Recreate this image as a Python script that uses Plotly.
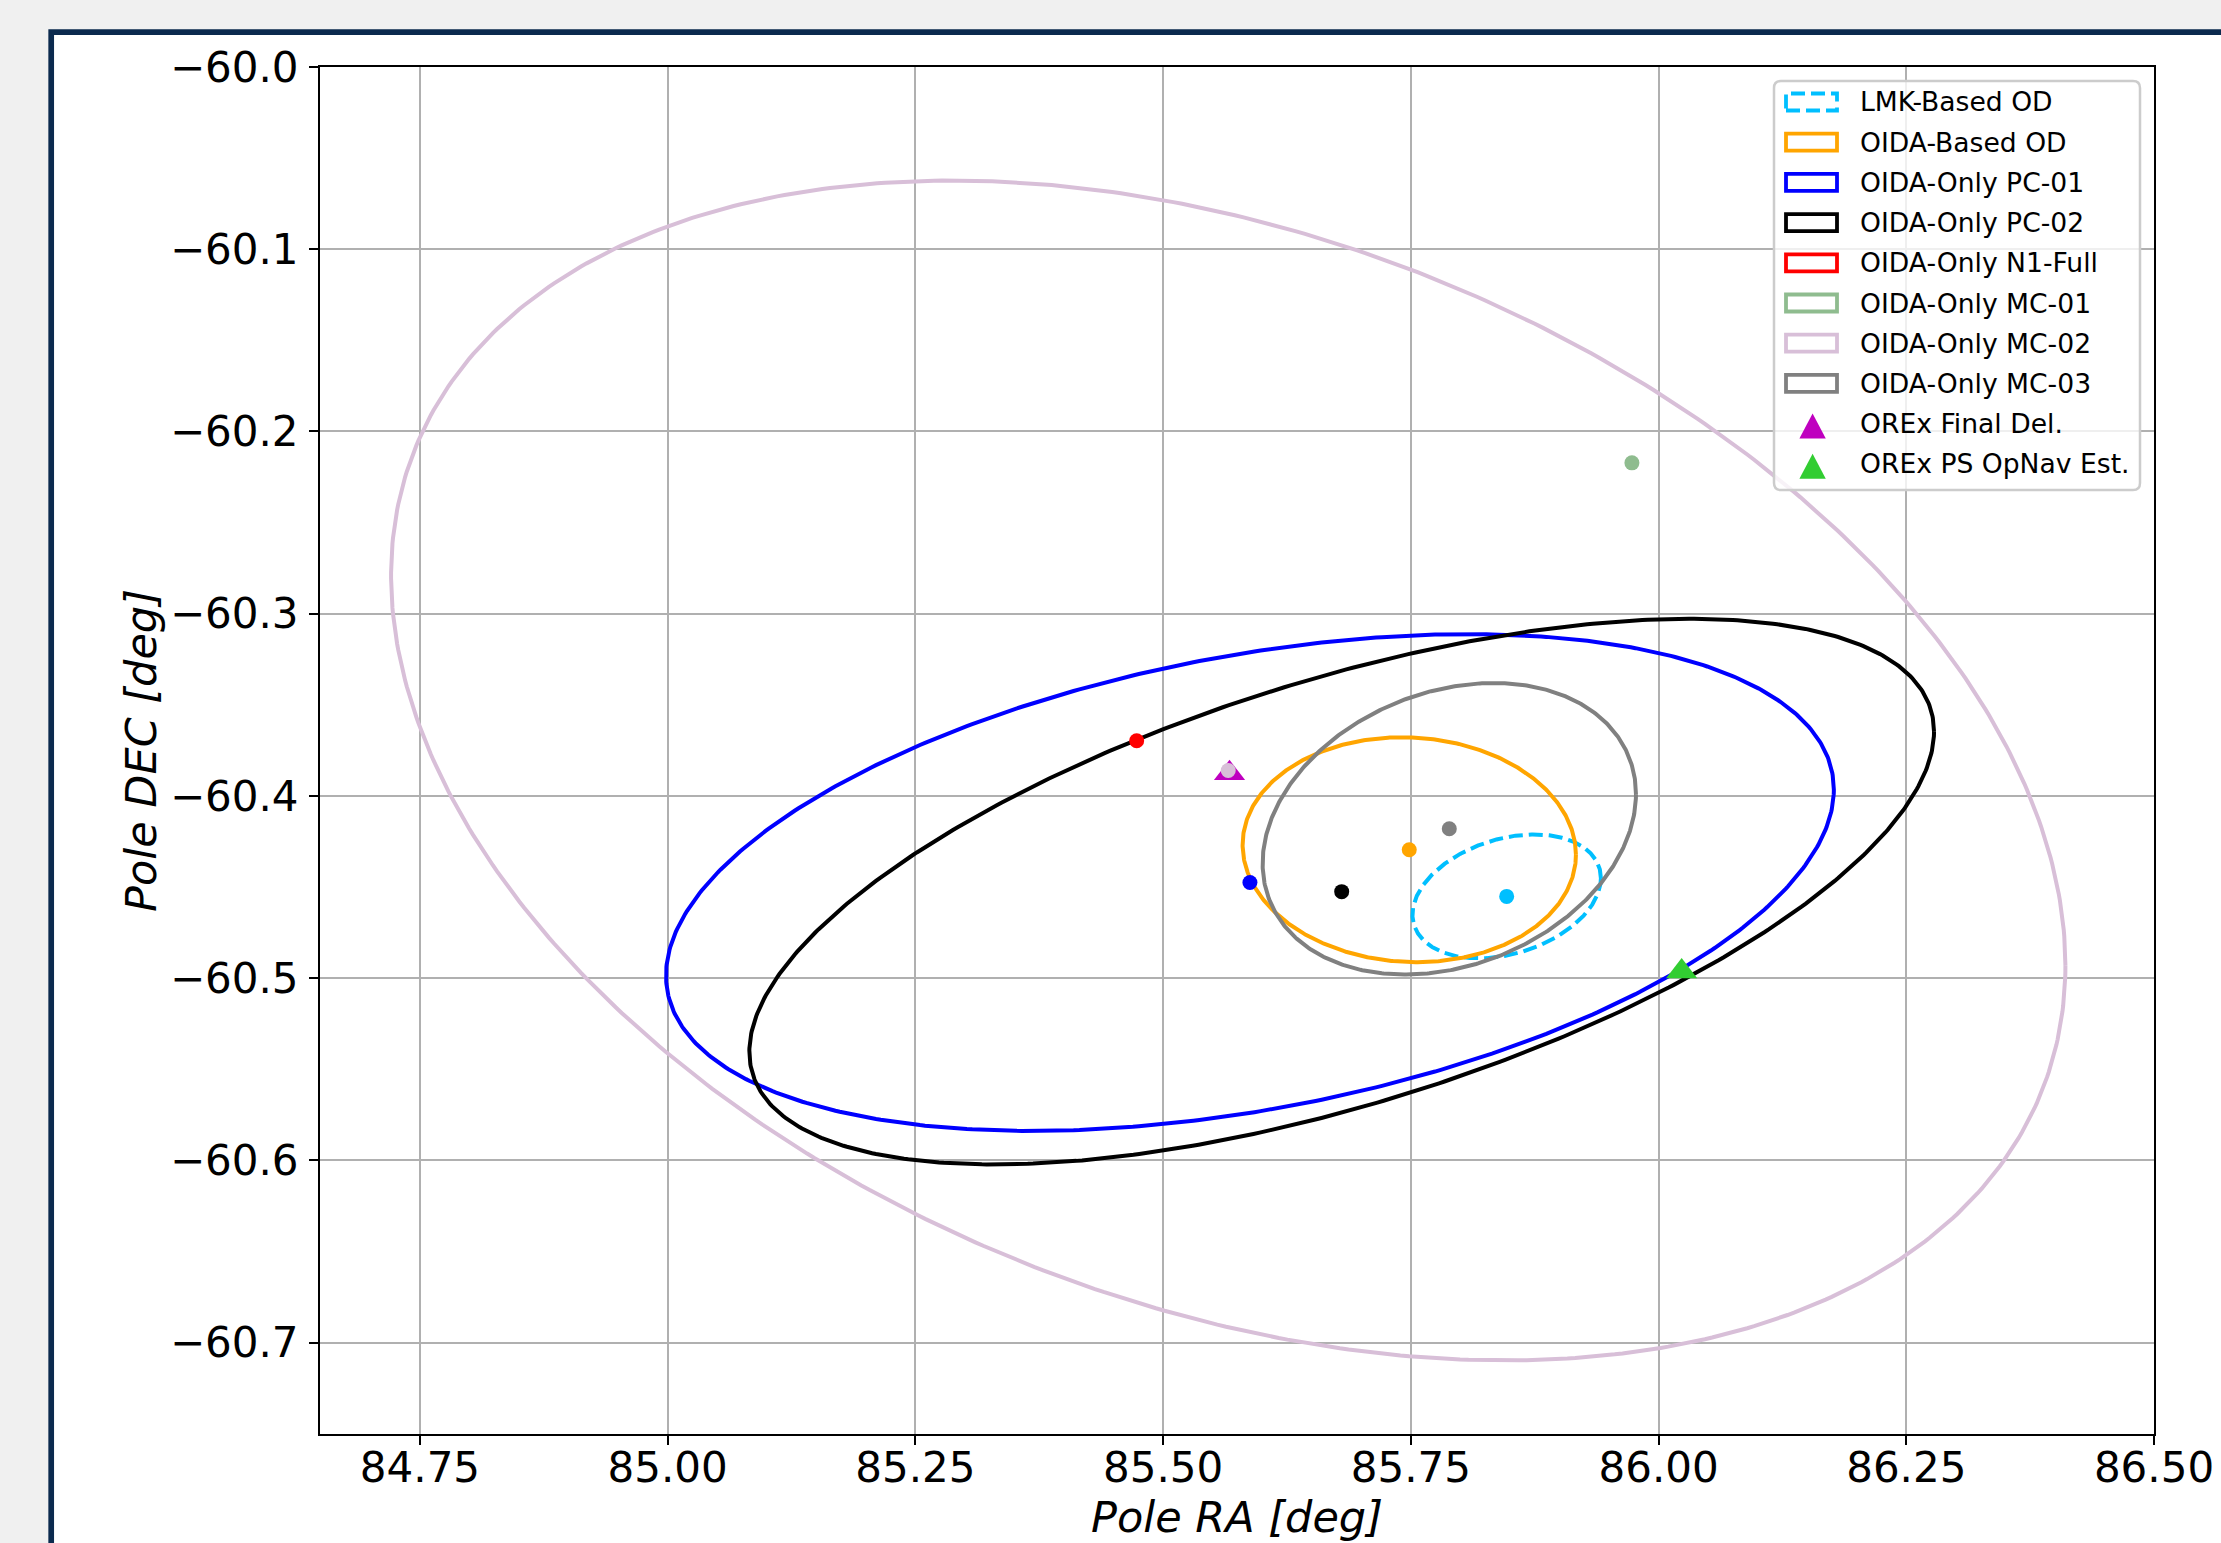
import numpy as np
import plotly.graph_objects as go

# ---------------- data ----------------
ellipse_names = ["LMK-Based OD", "OIDA-Based OD", "OIDA-Only PC-01", "OIDA-Only PC-02",
                 "OIDA-Only N1-Full", "OIDA-Only MC-01", "OIDA-Only MC-02", "OIDA-Only MC-03"]
ellipse_colors = ["#00bfff", "#ffa500", "#0000ff", "#000000",
                  "#ff0000", "#8fbc8f", "#d8bfd8", "#808080"]
ellipse_dash = ["14px,6px", "solid", "solid", "solid", "solid", "solid", "solid", "solid"]
center_ra = [85.8467, 85.7484, 85.5876, 85.6802, 85.4733, 85.9731, 85.5657, 85.7888]
center_dec = [-60.4551, -60.4295, -60.4475, -60.4525, -60.3697, -60.2172, -60.3860, -60.4180]
# ellipse size: half extent in RA, half extent in DEC, DEC offset at the RA-maximum point
half_ra = [0.0951, 0.1682, 0.5893, 0.5978, 0.0015, 0.0015, 0.8449, 0.1884]
half_dec = [0.0340, 0.0617, 0.1363, 0.1497, 0.0010, 0.0010, 0.3237, 0.0800]
dec_at_ra_max = [0.0100, -0.0027, 0.0510, 0.0878, 0.0, 0.0, -0.1070, 0.0190]

marker_names = ["OREx Final Del.", "OREx PS OpNav Est."]
marker_ra = [85.567, 86.0233]
marker_dec = [-60.3876, -60.4963]
marker_colors = ["#bf00bf", "#32cd32"]

x_ticks = [84.75, 85.00, 85.25, 85.50, 85.75, 86.00, 86.25, 86.50]
x_tick_labels = ["84.75", "85.00", "85.25", "85.50", "85.75", "86.00", "86.25", "86.50"]
y_ticks = [-60.0, -60.1, -60.2, -60.3, -60.4, -60.5, -60.6, -60.7]
y_tick_labels = ["\u221260.0", "\u221260.1", "\u221260.2", "\u221260.3",
                 "\u221260.4", "\u221260.5", "\u221260.6", "\u221260.7"]
x_range = [84.6491, 86.5]
y_range = [-60.7501, -60.0]
x_title = "Pole RA [deg]"
y_title = "Pole DEC [deg]"

# ---------------- layout geometry (pixels) ----------------
W, H = 2221, 1543
PL, PR, PT, PB = 320, 2154, 67, 1434
FONT = "DejaVu Sans"


def px(x):
    return (x - PL) / (PR - PL)


def py(y):
    return (PB - y) / (PB - PT)


fig = go.Figure()

# ellipses
t = np.linspace(0, 2 * np.pi, 600)
for i, name in enumerate(ellipse_names):
    hx, hy, dy = half_ra[i], half_dec[i], dec_at_ra_max[i]
    e = np.sqrt(max(hy ** 2 - dy ** 2, 0.0))
    xs = center_ra[i] + hx * np.cos(t)
    ys = center_dec[i] + dy * np.cos(t) + e * np.sin(t)
    fig.add_trace(go.Scatter(
        x=xs, y=ys, mode="lines", name=name, showlegend=False,
        line=dict(color=ellipse_colors[i], width=4, dash=ellipse_dash[i]),
        hoverinfo="skip"))

# triangles
for i, name in enumerate(marker_names):
    fig.add_trace(go.Scatter(
        x=[marker_ra[i]], y=[marker_dec[i]], mode="markers", name=name, showlegend=False,
        marker=dict(symbol="triangle-up", size=27, color=marker_colors[i], line=dict(width=0))))

# centre dots
for i, name in enumerate(ellipse_names):
    fig.add_trace(go.Scatter(
        x=[center_ra[i]], y=[center_dec[i]], mode="markers", name=name + " center",
        showlegend=False,
        marker=dict(symbol="circle", size=15, color=ellipse_colors[i], line=dict(width=0))))

shapes = []
# outer navy frame
shapes.append(dict(type="rect", xref="paper", yref="paper", layer="below",
                   x0=px(51.2), x1=px(2280), y0=py(1600), y1=py(32.2),
                   line=dict(color="#0b2a4e", width=5.7), fillcolor="white"))

# ---------------- legend (drawn manually to mimic patch handles) ----------------
bx0, bx1, by0, by1, rr = 1774, 2140, 81, 490, 7


def rounded_path(x0, y0, x1, y1, r):
    pts = []
    pts.append(f"M {px(x0 + r)} {py(y0)}")
    pts.append(f"L {px(x1 - r)} {py(y0)}")
    pts.append(f"Q {px(x1)} {py(y0)} {px(x1)} {py(y0 + r)}")
    pts.append(f"L {px(x1)} {py(y1 - r)}")
    pts.append(f"Q {px(x1)} {py(y1)} {px(x1 - r)} {py(y1)}")
    pts.append(f"L {px(x0 + r)} {py(y1)}")
    pts.append(f"Q {px(x0)} {py(y1)} {px(x0)} {py(y1 - r)}")
    pts.append(f"L {px(x0)} {py(y0 + r)}")
    pts.append(f"Q {px(x0)} {py(y0)} {px(x0 + r)} {py(y0)}")
    pts.append("Z")
    return " ".join(pts)


shapes.append(dict(type="path", xref="paper", yref="paper", layer="above",
                   path=rounded_path(bx0, by0, bx1, by1, rr),
                   fillcolor="rgba(255,255,255,0.8)", line=dict(color="#cccccc", width=2.5)))

row0, rowstep = 102.0, 40.2
annotations = []
legend_labels = ellipse_names + marker_names
for k, lab in enumerate(legend_labels):
    yc = row0 + rowstep * k
    if k < len(ellipse_names):
        shapes.append(dict(type="rect", xref="paper", yref="paper", layer="above",
                           x0=px(1786), x1=px(1837), y0=py(yc + 8.5), y1=py(yc - 8.5),
                           line=dict(color=ellipse_colors[k], width=3.8, dash=ellipse_dash[k]),
                           fillcolor="rgba(0,0,0,0)"))
    else:
        j = k - len(ellipse_names)
        cx, cy, hw, hh = 1812.6, yc + 2.4, 13.2, 12.5
        path = (f"M {px(cx - hw)} {py(cy + hh)} L {px(cx + hw)} {py(cy + hh)} "
                f"L {px(cx)} {py(cy - hh)} Z")
        shapes.append(dict(type="path", xref="paper", yref="paper", layer="above",
                           path=path, fillcolor=marker_colors[j], line=dict(width=0)))
    annotations.append(dict(text=lab, xref="paper", yref="paper", x=px(1858), y=py(yc),
                            xanchor="left", yanchor="middle", showarrow=False,
                            font=dict(family=FONT, size=26.6, color="black")))

axis_common = dict(
    automargin=False,
    showgrid=True, gridcolor="#b0b0b0", gridwidth=2, zeroline=False,
    showline=True, linecolor="black", linewidth=2, mirror=True,
    ticks="outside", ticklen=9, tickwidth=2, tickcolor="black",
    tickfont=dict(family=FONT, size=42, color="black"),
)

fig.update_layout(
    width=W, height=H,
    margin=dict(l=PL, r=W - PR, t=PT, b=H - PB, pad=0),
    paper_bgcolor="#f0f0f0", plot_bgcolor="white",
    showlegend=False,
    shapes=shapes, annotations=annotations,
    xaxis=dict(range=x_range, tickvals=x_ticks, ticktext=x_tick_labels,
               ticklabelstandoff=-13,
               title=dict(text=x_title, standoff=2,
                          font=dict(family=FONT, size=43, color="black", style="italic")),
               **axis_common),
    yaxis=dict(range=y_range, tickvals=y_ticks, ticktext=y_tick_labels,
               ticklabelstandoff=2,
               title=dict(text=y_title, standoff=0,
                          font=dict(family=FONT, size=43, color="black", style="italic")),
               **axis_common),
)

fig.write_html("out.html", config={"displayModeBar": False},
               post_script="document.body.style.margin='0';document.body.style.overflow='hidden';")
